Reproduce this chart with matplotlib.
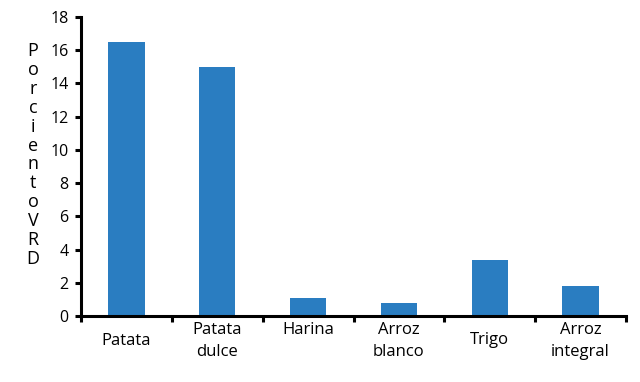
import matplotlib
matplotlib.use("Agg")
import matplotlib.pyplot as plt
import numpy as np
from matplotlib.transforms import offset_copy

categories = ["Patata", "Patata\ndulce", "Harina", "Arroz\nblanco", "Trigo", "Arroz\nintegral"]
values = [16.5, 15.0, 1.1, 0.8, 3.4, 1.8]
yticks = [0, 2, 4, 6, 8, 10, 12, 14, 16, 18]
ylabel = "PorcientoVRD"

# label vertical placement (style only): offset in points below the axis
label_offsets = [-18, -18, -10, -18, -17, -18]

plt.rcParams['font.family'] = ['Open Sans', 'DejaVu Sans']

fig = plt.figure(figsize=(6.4, 3.82), dpi=100)
ax = fig.add_axes([81/640, 1-316/382, (626-81)/640, (316-17)/382])

x = np.arange(len(values))
ax.bar(x, values, width=0.4, color="#2a7dc1")

ax.set_xlim(-0.5, len(values) - 0.5)
ax.set_ylim(0, 18)
ax.set_yticks(yticks)
ax.set_yticklabels([str(t) for t in yticks], fontsize=11.5)
ax.set_xticks(np.arange(len(values) + 1) - 0.5)
ax.set_xticklabels([])

for s in ["top", "right"]:
    ax.spines[s].set_visible(False)
for s in ["left", "bottom"]:
    ax.spines[s].set_linewidth(2.2)
    ax.spines[s].set_color("black")
ax.tick_params(axis="both", direction="out", length=4, width=2.2, color="black")
ax.tick_params(axis="y", pad=5)

for i, lab in enumerate(categories):
    tr = offset_copy(ax.get_xaxis_transform(), fig=fig, x=0, y=label_offsets[i], units="points")
    ax.text(i, 0, lab, transform=tr, ha="center", va="center", fontsize=12,
            linespacing=1.45)

fig.text(33/640, 1-155/382, "\n".join(ylabel), ha="center", va="center",
         fontsize=13, linespacing=1.06)

fig.savefig("out.png", dpi=100)
